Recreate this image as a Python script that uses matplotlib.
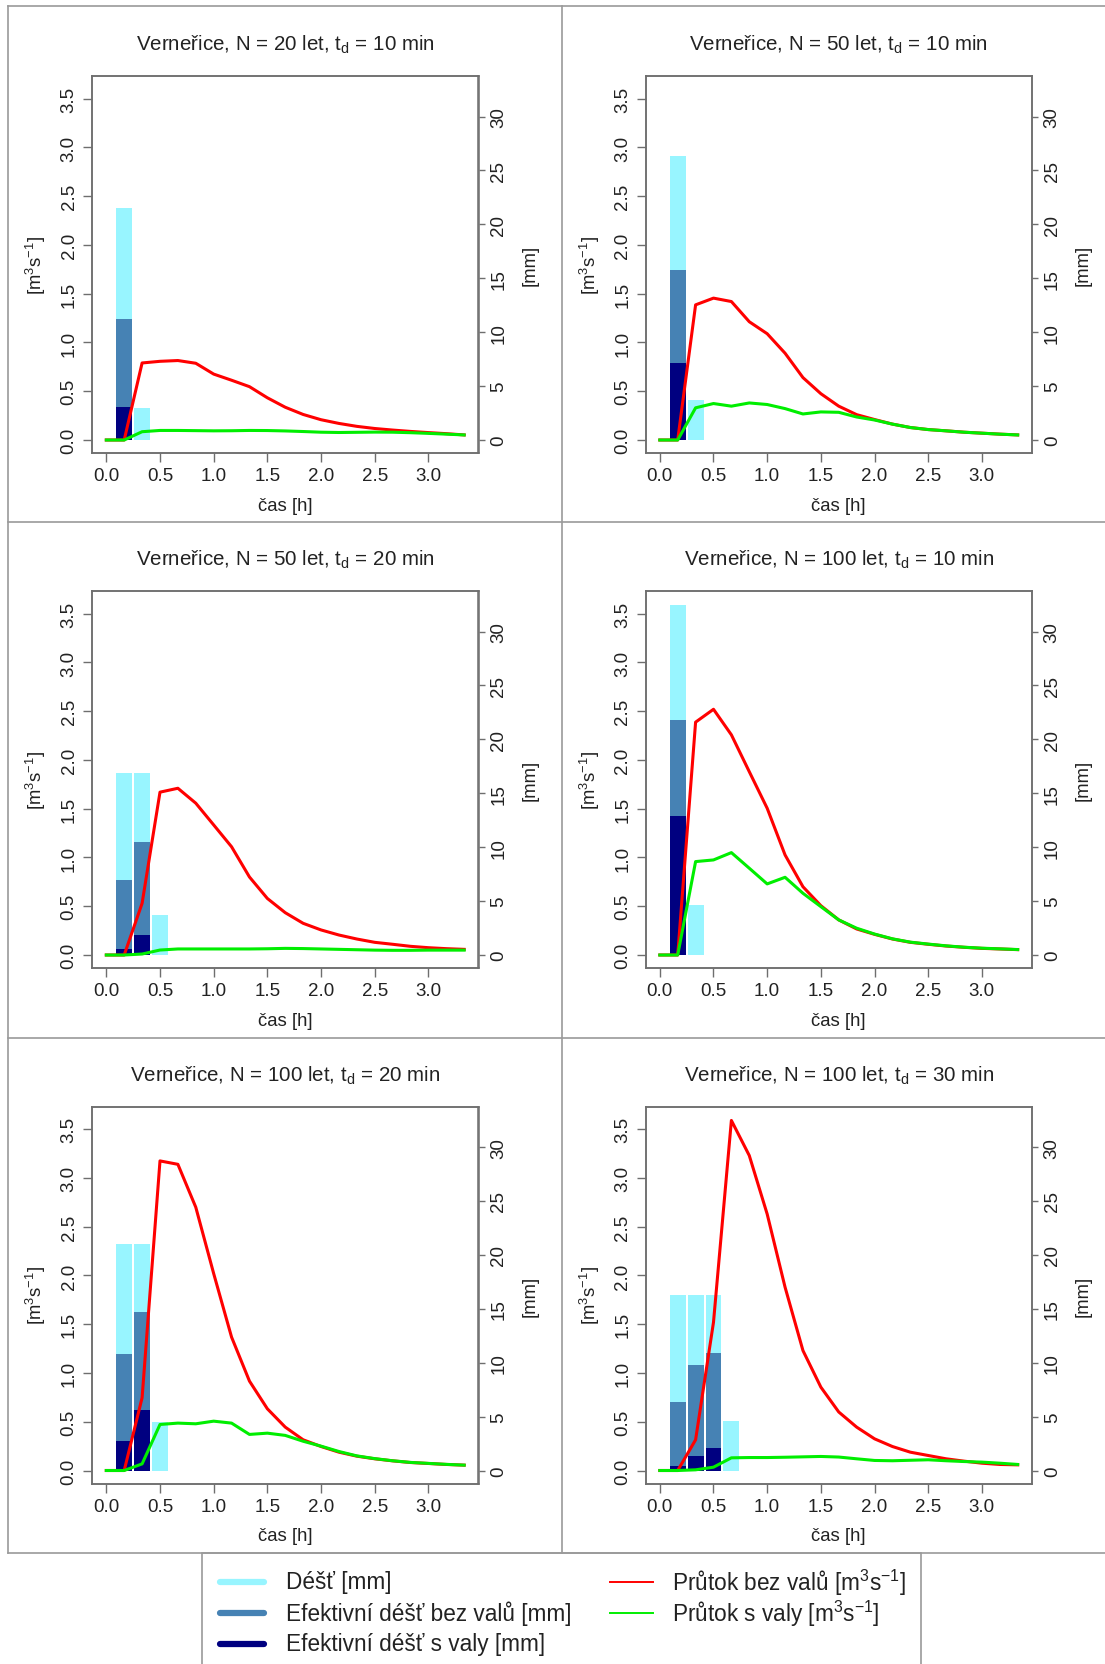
import numpy as np
import matplotlib
matplotlib.use('Agg')
import matplotlib.pyplot as plt
from matplotlib.lines import Line2D
from matplotlib.patches import Rectangle

plt.rcParams['font.family'] = ['Liberation Sans', 'DejaVu Sans']
plt.rcParams['mathtext.fontset'] = 'custom'
plt.rcParams['mathtext.rm'] = 'Liberation Sans'
plt.rcParams['mathtext.it'] = 'Liberation Sans:italic'
plt.rcParams['mathtext.bf'] = 'Liberation Sans:bold'

# ---------------- data ----------------
time_min = [0, 10, 20, 30, 40, 50, 60, 70, 80, 90, 100, 110, 120, 130, 140,
            150, 160, 170, 180, 190, 200]
bar_min = [10, 20, 30, 40]

N_years = [20, 50, 50, 100, 100, 100]
td_min = [10, 10, 20, 10, 20, 30]

# rain [mm] per 10-min interval
rain_p1 = [21.5, 3.0]
rain_p2 = [26.3, 3.7]
rain_p3 = [16.9, 16.9, 3.7]
rain_p4 = [32.5, 4.6]
rain_p5 = [21.0, 21.0, 4.5]
rain_p6 = [16.3, 16.3, 16.3, 4.55]

# effective rain without dams [mm]
effno_p1 = [11.2, 0.0]
effno_p2 = [15.8, 0.0]
effno_p3 = [7.0, 10.5, 0.0]
effno_p4 = [21.8, 0.0]
effno_p5 = [10.8, 14.7, 0.0]
effno_p6 = [6.4, 9.8, 10.9, 0.0]

# effective rain with dams [mm]
effwith_p1 = [3.1, 0.0]
effwith_p2 = [7.1, 0.0]
effwith_p3 = [0.6, 1.9, 0.0]
effwith_p4 = [12.9, 0.0]
effwith_p5 = [2.7, 5.6, 0.0]
effwith_p6 = [0.4, 1.35, 2.1, 0.0]

# discharge without dams [m3/s]
qno_p1 = [0, 0, 0.79, 0.807, 0.815, 0.787, 0.676, 0.613, 0.547, 0.433, 0.336,
          0.262, 0.208, 0.17, 0.14, 0.118, 0.102, 0.088, 0.076, 0.065, 0.052]
qno_p2 = [0, 0, 1.386, 1.455, 1.42, 1.213, 1.09, 0.89, 0.64, 0.475, 0.347,
          0.26, 0.21, 0.163, 0.128, 0.107, 0.094, 0.08, 0.07, 0.06, 0.052]
qno_p3 = [0, 0, 0.53, 1.67, 1.71, 1.557, 1.334, 1.11, 0.80, 0.58, 0.434,
          0.325, 0.257, 0.205, 0.164, 0.13, 0.11, 0.089, 0.075, 0.065, 0.058]
qno_p4 = [0, 0, 2.388, 2.52, 2.258, 1.88, 1.505, 1.026, 0.70, 0.506, 0.36,
          0.267, 0.212, 0.164, 0.13, 0.11, 0.092, 0.079, 0.068, 0.062, 0.055]
qno_p5 = [0, 0, 0.746, 3.175, 3.14, 2.70, 2.02, 1.368, 0.917, 0.633, 0.445,
          0.315, 0.246, 0.188, 0.147, 0.12, 0.099, 0.082, 0.072, 0.062, 0.055]
qno_p6 = [0, 0, 0.315, 1.52, 3.59, 3.23, 2.63, 1.88, 1.23, 0.855, 0.6,
          0.445, 0.325, 0.246, 0.188, 0.154, 0.12, 0.096, 0.075, 0.062, 0.058]

# discharge with dams [m3/s]
qwith_p1 = [0, 0, 0.085, 0.098, 0.098, 0.096, 0.094, 0.095, 0.098, 0.097, 0.093,
            0.087, 0.08, 0.077, 0.079, 0.081, 0.08, 0.075, 0.068, 0.06, 0.052]
qwith_p2 = [0, 0, 0.33, 0.374, 0.347, 0.38, 0.364, 0.322, 0.267, 0.288, 0.284,
            0.236, 0.205, 0.163, 0.128, 0.107, 0.094, 0.08, 0.07, 0.06, 0.052]
qwith_p3 = [0, 0, 0.01, 0.051, 0.062, 0.062, 0.062, 0.062, 0.062, 0.064, 0.068,
            0.066, 0.062, 0.058, 0.054, 0.05, 0.048, 0.048, 0.05, 0.05, 0.05]
qwith_p4 = [0, 0, 0.958, 0.975, 1.05, 0.89, 0.729, 0.797, 0.633, 0.496, 0.36,
            0.275, 0.215, 0.166, 0.132, 0.112, 0.094, 0.08, 0.07, 0.063, 0.056]
qwith_p5 = [0, 0, 0.068, 0.472, 0.486, 0.479, 0.506, 0.486, 0.37, 0.383, 0.36,
            0.30, 0.25, 0.195, 0.15, 0.122, 0.1, 0.083, 0.073, 0.063, 0.055]
qwith_p6 = [0, 0, 0.007, 0.034, 0.13, 0.133, 0.133, 0.136, 0.14, 0.144, 0.138,
            0.12, 0.103, 0.1, 0.105, 0.11, 0.1, 0.092, 0.086, 0.075, 0.062]

rain_all = [rain_p1, rain_p2, rain_p3, rain_p4, rain_p5, rain_p6]
effno_all = [effno_p1, effno_p2, effno_p3, effno_p4, effno_p5, effno_p6]
effwith_all = [effwith_p1, effwith_p2, effwith_p3, effwith_p4, effwith_p5, effwith_p6]
qno_all = [qno_p1, qno_p2, qno_p3, qno_p4, qno_p5, qno_p6]
qwith_all = [qwith_p1, qwith_p2, qwith_p3, qwith_p4, qwith_p5, qwith_p6]

q_ticks = [0.0, 0.5, 1.0, 1.5, 2.0, 2.5, 3.0, 3.5]
mm_ticks = [0, 5, 10, 15, 20, 25, 30]
t_ticks = [0.0, 0.5, 1.0, 1.5, 2.0, 2.5, 3.0]

legend_labels = ['Déšť [mm]', 'Efektivní déšť bez valů [mm]', 'Efektivní déšť s valy [mm]',
                 'Průtok bez valů [m$^{3}$s$^{-1}$]', 'Průtok s valy [m$^{3}$s$^{-1}$]']

# ---------------- style ----------------
C_RAIN = '#98F5FF'
C_EFFNO = '#4682B4'
C_EFFWITH = '#000080'
C_QNO = '#FF0000'
C_QWITH = '#00EE00'
C_BOX = '#6e6e6e'
C_TXT = '#222222'
C_FRAME = '#9a9a9a'

W, H = 1105, 1665
fig = plt.figure(figsize=(W / 100, H / 100), dpi=100)

col_left = [92, 645.5]
row_top = [77, 592, 1107.5]
ax_w, ax_h = 386.5, 377

t_h = np.array(time_min) / 60.0
bar_h = np.array(bar_min) / 60.0
bar_w = 0.148

YL = (-0.1333, 3.733)
RATIO = 9.045

for i in range(6):
    r, c = divmod(i, 2)
    left = col_left[c] / W
    bottom = 1 - (row_top[r] + ax_h) / H
    ax = fig.add_axes([left, bottom, ax_w / W, ax_h / H])
    ax2 = ax.twinx()
    ax.set_zorder(ax2.get_zorder() + 1)
    ax.patch.set_visible(False)

    n = len(rain_all[i])
    xb = bar_h[:n]
    ax2.bar(xb, rain_all[i], width=bar_w, color=C_RAIN, linewidth=0)
    ax2.bar(xb, effno_all[i], width=bar_w, color=C_EFFNO, linewidth=0)
    ax2.bar(xb, effwith_all[i], width=bar_w, color=C_EFFWITH, linewidth=0)

    ax.plot(t_h, qno_all[i], color=C_QNO, lw=2.2, solid_joinstyle='round')
    ax.plot(t_h, qwith_all[i], color=C_QWITH, lw=2.2, solid_joinstyle='round')

    ax.set_xlim(-0.1333, 3.4667)
    ax.set_ylim(*YL)
    ax2.set_ylim(YL[0] * RATIO, YL[1] * RATIO)

    ax.set_xticks(t_ticks)
    ax.set_xticklabels(['%.1f' % v for v in t_ticks])
    ax.set_yticks(q_ticks)
    ax.set_yticklabels(['%.1f' % v for v in q_ticks])
    ax2.set_yticks(mm_ticks)
    ax2.set_yticklabels([str(v) for v in mm_ticks])

    for a in (ax, ax2):
        for s in a.spines.values():
            s.set_color(C_BOX)
            s.set_linewidth(1.1)
    ax.tick_params(axis='x', length=6.3, width=1.0, color=C_BOX, labelsize=13.5,
                   labelcolor=C_TXT, pad=4)
    ax.tick_params(axis='y', length=6.3, width=1.0, color=C_BOX, labelsize=13.5,
                   labelcolor=C_TXT, pad=4, labelrotation=90)
    ax2.tick_params(axis='y', length=4.5, width=1.0, color=C_BOX, labelsize=13.5,
                    labelcolor=C_TXT, pad=4, labelrotation=90)
    for lab in ax.get_yticklabels() + ax2.get_yticklabels():
        lab.set_va('center')

    title = 'Verneřice, N = %d let, t$_{\\mathrm{d}}$ = %d min' % (N_years[i], td_min[i])
    ax.text(0.5, 1.069, title, transform=ax.transAxes, ha='center', va='baseline',
            fontsize=14.8, color=C_TXT)
    ax.text(0.5, -0.151, 'čas [h]', transform=ax.transAxes, ha='center', va='baseline',
            fontsize=13.3, color=C_TXT)
    ax.text(-0.1449, 0.5, '[m$^{3}$s$^{-1}$]', transform=ax.transAxes, ha='center',
            va='center', rotation=90, fontsize=13.3, color=C_TXT)
    ax.text(1.1332, 0.5, '[mm]', transform=ax.transAxes, ha='center', va='center',
            rotation=90, fontsize=13.3, color=C_TXT)

# ---------------- panel frames ----------------
def fx(px):
    return px / W

def fy(py):
    return 1 - py / H

frame_kw = dict(color=C_FRAME, lw=1.2, transform=fig.transFigure)
for yy in [7, 522.5, 1038.5, 1554]:
    fig.add_artist(Line2D([fx(8), fx(W)], [fy(yy), fy(yy)], **frame_kw))
for xx in [8, 562]:
    fig.add_artist(Line2D([fx(xx), fx(xx)], [fy(7), fy(1554)], **frame_kw))

# ---------------- legend ----------------
fig.add_artist(Rectangle((fx(201.7), fy(1700)), fx(921) - fx(201.7), fy(1554) - fy(1700),
                         transform=fig.transFigure, fill=False, edgecolor=C_FRAME, lw=1.2))

leg_rows = [1582.7, 1614, 1645]
leg_colors = [C_RAIN, C_EFFNO, C_EFFWITH, C_QNO, C_QWITH]
for k in range(3):
    y = fy(leg_rows[k])
    fig.add_artist(Line2D([fx(220), fx(264)], [y, y], color=leg_colors[k], lw=4.5,
                          solid_capstyle='round', transform=fig.transFigure))
    fig.text(fx(285.5), y, legend_labels[k], ha='left', va='center', fontsize=16.3,
             color=C_TXT)
for k in range(2):
    y = fy(leg_rows[k])
    fig.add_artist(Line2D([fx(610), fx(652.5)], [y, y], color=leg_colors[3 + k], lw=1.4,
                          transform=fig.transFigure))
    fig.text(fx(671.5), y, legend_labels[3 + k], ha='left', va='center', fontsize=16.3,
             color=C_TXT)

fig.savefig('out.png', dpi=100)
